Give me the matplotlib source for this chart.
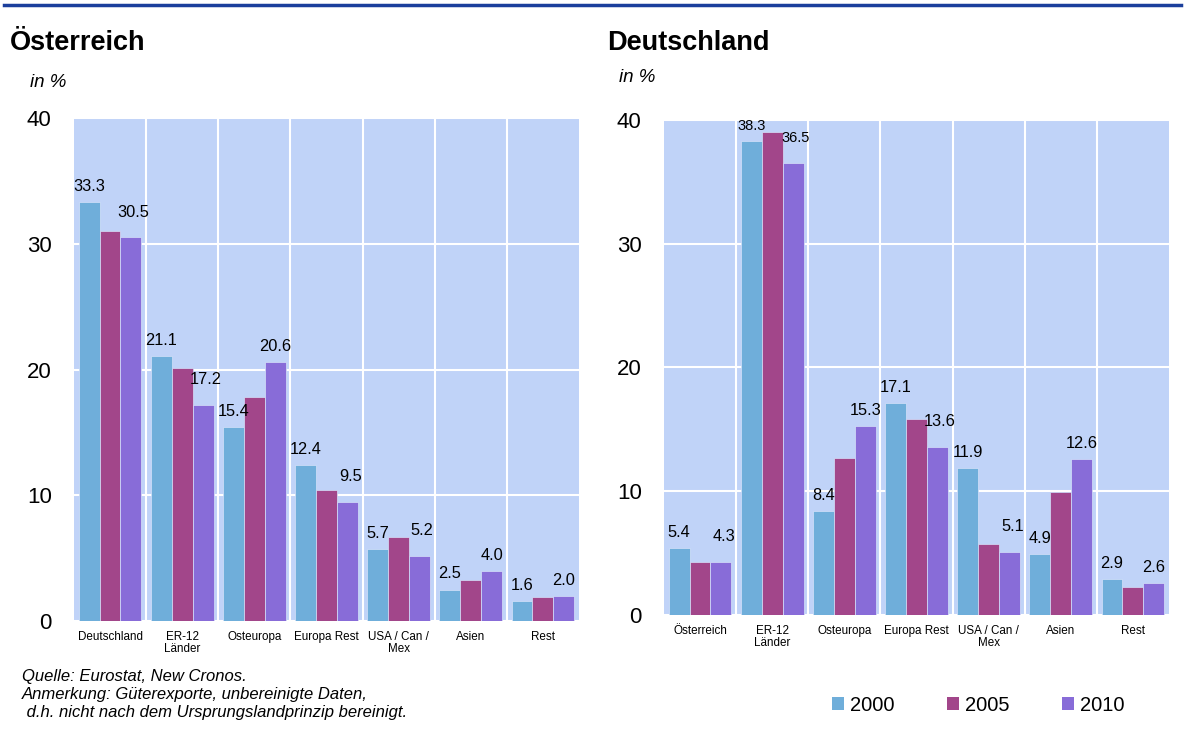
import numpy as np
import matplotlib
matplotlib.use("Agg")
from matplotlib import pyplot as plt
from matplotlib.patches import Patch
from matplotlib.lines import Line2D

plt.rcParams['font.family'] = ['Liberation Sans', 'DejaVu Sans']

years = ["2000", "2005", "2010"]
colors = ["#6FAEDA", "#A2468A", "#886CD8"]

at_regions = ["Deutschland", "ER-12\nLänder", "Osteuropa", "Europa Rest", "USA / Can /\nMex", "Asien", "Rest"]
at_2000 = [33.3, 21.1, 15.4, 12.4, 5.7, 2.5, 1.6]
at_2005 = [31.0, 20.1, 17.8, 10.4, 6.7, 3.3, 1.9]
at_2010 = [30.5, 17.2, 20.6, 9.5, 5.2, 4.0, 2.0]

de_regions = ["Österreich", "ER-12\nLänder", "Osteuropa", "Europa Rest", "USA / Can /\nMex", "Asien", "Rest"]
de_2000 = [5.4, 38.3, 8.4, 17.1, 11.9, 4.9, 2.9]
de_2005 = [4.3, 39.0, 12.7, 15.8, 5.7, 9.9, 2.3]
de_2010 = [4.3, 36.5, 15.3, 13.6, 5.1, 12.6, 2.6]

fig = plt.figure(figsize=(11.85, 7.4), dpi=100)

# blue rule at top
fig.add_artist(Line2D([0.003, 0.997], [0.993, 0.993], color="#1B3F9C", lw=2.5))


def label(ax, bar, v, dx=0, dy=8):
    fs = 10.5 if v > 35 else 11.8
    ax.annotate(f"{v:.1f}", (bar.get_x() + bar.get_width() / 2, v),
                xytext=(dx, dy), textcoords="offset points",
                ha="center", va="baseline", fontsize=fs)


def draw_panel(ax, regions, s2000, s2005, s2010):
    x = np.arange(len(regions))
    w = 0.29
    ax.set_facecolor("#C0D3F8")
    bars = []
    for i, vals in enumerate([s2000, s2005, s2010]):
        bars.append(ax.bar(x + (i - 1) * w, vals, w, color=colors[i],
                           edgecolor="#D6E2FA", linewidth=0.5, zorder=3))
    # only 2000 and 2010 carry value labels
    for b, v in zip(bars[0], s2000):
        label(ax, b, v)
    for b, v, v5 in zip(bars[2], s2010, s2005):
        if v5 >= v:
            label(ax, b, v, dx=2, dy=15)
        else:
            label(ax, b, v)
    ax.set_xlim(-0.5, len(regions) - 0.5)
    ax.set_ylim(0, 40)
    ax.set_yticks([0, 10, 20, 30, 40])
    ax.set_xticks(x)
    ax.set_xticklabels(regions, fontsize=8.4, linespacing=1.05)
    ax.set_xticks(x[:-1] + 0.5, minor=True)
    ax.grid(axis="y", which="major", color="white", lw=1.5, zorder=1)
    ax.grid(axis="x", which="minor", color="white", lw=1.5, zorder=1)
    ax.grid(axis="x", which="major", visible=False)
    ax.tick_params(axis="y", length=0, labelsize=16, pad=16)
    ax.tick_params(axis="x", length=0, pad=7)
    ax.tick_params(axis="x", which="minor", length=0)
    for s in ax.spines.values():
        s.set_visible(False)
    ax.set_axisbelow(True)


ax1 = fig.add_axes([0.0624, 0.1608, 0.4262, 0.6797])
draw_panel(ax1, at_regions, at_2000, at_2005, at_2010)
ax2 = fig.add_axes([0.5603, 0.1689, 0.4262, 0.6690])
draw_panel(ax2, de_regions, de_2000, de_2005, de_2010)

fig.text(10 / 1185, 1 - 50 / 740, "Österreich", fontsize=19.5, fontweight="bold")
fig.text(607 / 1185, 1 - 50 / 740, "Deutschland", fontsize=19.5, fontweight="bold")
fig.text(30 / 1185, 1 - 87 / 740, "in %", fontsize=13.5, style="italic")
fig.text(619 / 1185, 1 - 82 / 740, "in %", fontsize=13.5, style="italic")

fig.text(22 / 1185, 1 - 681 / 740, "Quelle: Eurostat, New Cronos.", fontsize=12, style="italic")
fig.text(22 / 1185, 1 - 699 / 740, "Anmerkung: Güterexporte, unbereinigte Daten,", fontsize=12, style="italic")
fig.text(22 / 1185, 1 - 717 / 740, " d.h. nicht nach dem Ursprungslandprinzip bereinigt.", fontsize=12, style="italic")

handles = [Patch(facecolor=c, edgecolor="none") for c in colors]
fig.legend(handles, years, loc="center", bbox_to_anchor=(0.8255, 0.047), ncol=3,
           frameon=False, fontsize=14.5, handlelength=0.6, handleheight=0.6,
           handletextpad=0.3, columnspacing=2.6)

fig.savefig("out.png", dpi=100)
